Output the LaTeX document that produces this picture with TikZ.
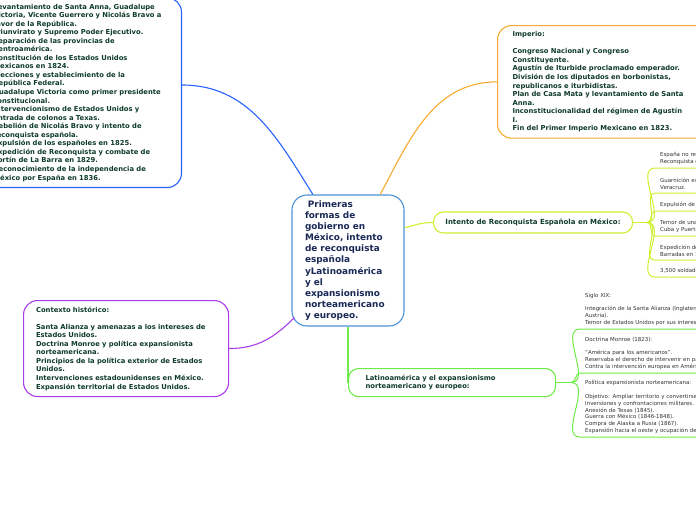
\documentclass[tikz,border=0pt]{standalone}
\usepackage{fontspec}
\setmainfont{DejaVu Sans}
\usetikzlibrary{positioning, calc}
\definecolor{linkblue}{RGB}{41, 98, 255}
\definecolor{imporange}{RGB}{247, 170, 45}
\definecolor{limegreen}{RGB}{205, 240, 50}
\definecolor{ctxpurple}{RGB}{170, 60, 235}
\definecolor{latgreen}{RGB}{110, 235, 70}
\definecolor{mainblue}{RGB}{75, 145, 215}
\definecolor{navy1}{RGB}{25, 40, 85}
\definecolor{boxtext}{RGB}{15, 60, 40}
\definecolor{leaftext}{RGB}{50, 50, 50}

\begin{document}
\begin{tikzpicture}[x=1pt, y=1pt,
  mainnode/.style={draw=mainblue, line width=1.1pt, rounded corners=15pt, fill=white, minimum width=112pt, minimum height=131pt, text width=86pt, inner xsep=13pt, align=left, text=navy1, font=\fontsize{8.9}{11.1}\selectfont\bfseries},
  topic/.style={draw, line width=1.1pt, rounded corners=14pt, fill=white, align=left, inner ysep=6pt, text=boxtext, font=\fontsize{6.8}{8.55}\selectfont\bfseries},
  pill/.style={draw, line width=1.1pt, rounded corners=10pt, fill=white, align=left, text=boxtext, font=\fontsize{6.8}{8.7}\selectfont\bfseries},
  leaf/.style={anchor=south west, inner xsep=5pt, inner ysep=3pt, text width=200pt, align=left, text=leaftext, font=\fontsize{5.45}{6.85}\selectfont},
  link/.style={line width=1.1pt}
]
  \clip (0, 0) rectangle (696, -520);

  \node[mainnode] (main) at (348, -260.5) {
    \ Primeras\\formas de\\gobierno en\\México, intento\\de reconquista\\española\\yLatinoamérica\\y el\\expansionismo\\norteamericano\\y europeo.
  };

  \node[topic, draw=linkblue, anchor=south east, text width=176pt, inner xsep=12pt] (gob) at (182, -188) {
    Levantamiento de Santa Anna, Guadalupe\\
    Victoria, Vicente Guerrero y Nicolás Bravo a\\
    favor de la República.\\
    Triunvirato y Supremo Poder Ejecutivo.\\
    Separación de las provincias de\\
    Centroamérica.\\
    Constitución de los Estados Unidos\\
    Mexicanos en 1824.\\
    Elecciones y establecimiento de la\\
    República Federal.\\
    Guadalupe Victoria como primer presidente\\
    constitucional.\\
    Intervencionismo de Estados Unidos y\\
    entrada de colonos a Texas.\\
    Rebelión de Nicolás Bravo y intento de\\
    reconquista española.\\
    Expulsión de los españoles en 1825.\\
    Expedición de Reconquista y combate de\\
    Fortín de La Barra en 1829.\\
    Reconocimiento de la independencia de\\
    México por España en 1836.
  };

  \node[topic, draw=imporange, anchor=north west, text width=185pt, inner xsep=15pt, minimum height=112pt] (imp) at (497, -25) {
    Imperio:\\[8.55pt]
    Congreso Nacional y Congreso\\
    Constituyente.\\
    Agustín de Iturbide proclamado emperador.\\
    División de los diputados en borbonistas,\\
    republicanos e iturbidistas.\\
    Plan de Casa Mata y levantamiento de Santa\\
    Anna.\\
    Inconstitucionalidad del régimen de Agustín\\
    I.\\
    Fin del Primer Imperio Mexicano en 1823.
  };

  \node[topic, draw=ctxpurple, anchor=north west, text width=180pt, inner xsep=12.5pt, minimum height=96pt] (ctx) at (23, -300) {
    Contexto histórico:\\[8.55pt]
    Santa Alianza y amenazas a los intereses de\\
    Estados Unidos.\\
    Doctrina Monroe y política expansionista\\
    norteamericana.\\
    Principios de la política exterior de Estados\\
    Unidos.\\
    Intervenciones estadounidenses en México.\\
    Expansión territorial de Estados Unidos.
  };

  \node[pill, draw=limegreen, inner xsep=12pt, minimum height=21pt, font=\fontsize{7}{8.7}\selectfont\bfseries] (intento) at (533, -222.5) {Intento de Reconquista Española en México:};

  \node[pill, draw=latgreen, anchor=north west, text width=173pt, inner xsep=17pt, minimum height=28pt] (lat) at (348, -368) {
    Latinoamérica y el expansionismo\\norteamericano y europeo:
  };

  \node[leaf] (r1) at (655, -168) {España no reconocía la independencia\\Reconquista de México.};
  \node[leaf] (r2) at (655, -193) {Guarnición española en San Juan de Ulúa,\\Veracruz.};
  \node[leaf] (r3) at (655, -211) {Expulsión de los españoles.};
  \node[leaf] (r4) at (655, -236) {Temor de una invasión desde\\Cuba y Puerto Rico.};
  \node[leaf] (r5) at (655, -260) {Expedición de Isidro\\Barradas en 1829.};
  \node[leaf] (r6) at (655, -277) {3,500 soldados desembarcan en Tampico.};

  \node[leaf] (l1) at (580, -329) {Siglo XIX:\\[6.85pt]
    Integración de la Santa Alianza (Inglaterra, Francia, Rusia y\\
    Austria).\\
    Temor de Estados Unidos por sus intereses en América.};
  \node[leaf] (l2) at (580, -373) {Doctrina Monroe (1823):\\[6.85pt]
    "América para los americanos".\\
    Reservaba el derecho de intervenir en países de América.\\
    Contra la intervención europea en América.};
  \node[leaf] (l3) at (580, -437) {Política expansionista norteamericana:\\[6.85pt]
    Objetivo: Ampliar territorio y convertirse en potencia.\\
    Inversiones y confrontaciones militares.\\
    Anexión de Texas (1845).\\
    Guerra con México (1846-1848).\\
    Compra de Alaska a Rusia (1867).\\
    Expansión hacia el oeste y ocupación de territorios.};

  \draw[link, linkblue] ([yshift=103pt]gob.south east) to[out=0, in=122] (main.118);
  \draw[link, imporange] (imp.west) to[out=180, in=62] (main.64);
  \draw[link, limegreen] (main.30) to[out=15, in=180] (intento.west);
  \draw[link, ctxpurple] (ctx.east) to[out=0, in=225] ([shift={(3,9)}]main.south west);
  \draw[link, latgreen] (main.south) -- (main.south |- lat.west);

  \coordinate (rb) at ([xshift=14pt]intento.east);
  \coordinate (lb) at ([xshift=15pt]lat.east);
  \draw[link, limegreen] (intento.east) -- (rb);
  \draw[link, latgreen] (lat.east) -- (lb);
  \foreach \n in {r1, r2, r3, r4, r5, r6}
    \draw[limegreen, line width=1pt] (rb) to[out=0, in=180] (\n.south west) -- (\n.south east);
  \foreach \n in {l1, l2, l3}
    \draw[latgreen, line width=1pt] (lb) to[out=0, in=180] (\n.south west) -- (\n.south east);
\end{tikzpicture}
\end{document}
